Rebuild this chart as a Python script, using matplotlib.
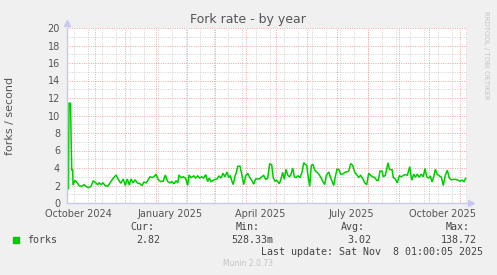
import matplotlib
matplotlib.use('Agg')
from matplotlib import pyplot as plt
from datetime import datetime, timedelta

# %%
start = datetime(2024, 10, 4, 1, 0, 5)
end = datetime(2025, 11, 8, 1, 0, 5)

# days since start, forks / second (daily averages)
day = [0, 1.5, 2, 3.5, 4.7, 5.7, 6, 8, 10.3, 12, 14.7, 17, 19, 21.3, 24, 26.3, 28.7, 30.7,
       32.3, 34, 36, 38, 40.7, 43, 45.7, 49, 51.3, 53.7, 56.3, 58.3, 60.3, 62.3, 64, 66,
       68, 70.3, 73, 75, 77, 79, 81, 83, 85.3, 87.7, 89, 91.3, 93.7, 96.3, 98.3, 100.7,
       103, 104.7, 107, 109, 110.7, 112, 114, 116.3, 118.7, 120.7, 122, 124, 126.7, 128.7,
       130.7, 132.7, 134.7, 136.7, 138.7, 140.7, 142.3, 144, 145.7, 148, 150, 152, 154,
       156, 158, 160, 161.7, 163.3, 164.7, 166.3, 168, 169.3, 170.7, 173, 175, 176.7,
       178.7, 180.7, 182.3, 184.7, 186.7, 188.7, 190.7, 192.7, 194.7, 196.7, 198.7, 200.7,
       202.7, 204.7, 206.3, 208, 209.7, 212.3, 214, 215.7, 217.3, 219, 220.7, 222.3, 223.7,
       225.7, 227.3, 229, 231, 233, 235, 236.7, 238.3, 239.7, 241, 242.7, 244.3, 246, 247.7,
       249.7, 251.7, 253.7, 255.7, 257.7, 259.3, 261.7, 263.3, 265, 266.7, 268.3, 270,
       271.7, 273.7, 275.7, 277.7, 279.7, 281.7, 283.7, 285.7, 287.7, 289.7, 291.7, 293.7,
       295.7, 297.7, 299.7, 301.7, 303.7, 305.7, 307.7, 309.7, 311.3, 313, 315, 316.3,
       318.3, 321, 322.3, 325, 326.3, 328.3, 330.3, 332.3, 334.3, 336.3, 338.3, 340.3,
       342.7, 344.7, 346.7, 348.3, 350.3, 352.3, 354.3, 356.3, 358, 359.7, 361.7, 363.3,
       365, 366.7, 368.3, 370, 371.7, 374.3, 376.3, 378.3, 380.3, 382.3, 384.3, 387, 389,
       391, 393, 395, 397, 398.7]
forks = [1.63, 1.63, 11.4, 11.4, 3.77, 3.77, 2.06, 2.6, 2.3, 2.0, 1.9, 2.1, 1.9, 1.75, 1.9,
         2.55, 2.3, 2.1, 2.3, 2.1, 2.3, 2.0, 1.9, 2.3, 2.75, 3.2, 2.7, 2.25, 2.75, 2.0, 2.75,
         2.05, 2.75, 2.3, 2.65, 2.3, 2.2, 2.0, 2.4, 2.3, 2.6, 3.0, 2.9, 3.1, 3.3, 2.65, 2.45,
         2.5, 3.2, 2.45, 2.3, 2.45, 2.2, 2.55, 2.3, 3.2, 2.9, 3.0, 2.8, 2.0, 3.2, 2.9, 3.1,
         2.85, 3.1, 2.85, 3.0, 2.85, 3.25, 2.45, 2.85, 2.45, 2.55, 2.7, 2.75, 3.1, 2.85, 3.4,
         3.0, 3.55, 2.9, 3.15, 2.55, 2.1, 3.1, 3.45, 4.2, 4.2, 3.15, 2.1, 3.1, 3.4, 3.0, 2.6,
         2.15, 2.75, 2.75, 2.75, 3.0, 3.15, 2.7, 2.85, 4.5, 4.35, 2.85, 2.5, 2.6, 2.2, 2.75,
         3.5, 2.7, 3.85, 3.2, 3.0, 3.15, 4.0, 3.0, 2.9, 3.1, 2.9, 3.5, 4.6, 4.4, 4.3, 3.15,
         1.9, 4.3, 4.4, 3.75, 3.55, 3.3, 2.95, 2.5, 2.1, 3.15, 3.55, 3.0, 2.5, 2.0, 3.0, 3.85,
         3.85, 3.3, 3.3, 3.5, 3.55, 3.65, 4.5, 4.3, 3.5, 3.25, 2.95, 3.15, 2.8, 2.3, 2.1, 3.4,
         3.15, 3.0, 2.9, 2.6, 2.6, 3.65, 3.65, 3.0, 3.15, 4.6, 3.85, 3.8, 2.9, 2.75, 2.3, 3.1,
         3.0, 3.15, 3.25, 3.15, 4.15, 2.6, 3.3, 2.95, 3.3, 2.95, 3.3, 3.0, 3.95, 3.0, 2.85,
         3.1, 2.4, 3.0, 3.85, 3.3, 3.15, 2.95, 2.0, 3.15, 3.75, 2.85, 2.65, 2.7, 2.7, 2.6, 2.5,
         2.6, 2.45, 2.82]

yticks = list(range(0, 21, 2))
xlabel_dates = [datetime(2024, 10, 15), datetime(2025, 1, 15), datetime(2025, 4, 15),
                datetime(2025, 7, 15), datetime(2025, 10, 15)]
xlabel_text = ['October 2024', 'January 2025', 'April 2025', 'July 2025', 'October 2025']

legend_cols = ['Cur:', 'Min:', 'Avg:', 'Max:']
legend_vals = ['2.82', '528.33m', '3.02', '138.72']

# %%
W, H = 497, 275
fig = plt.figure(figsize=(W / 100, H / 100), dpi=100, facecolor='#f0f0f0')
ax = fig.add_axes([67 / W, 72 / H, 400 / W, 175 / H], facecolor='white')

def px(x, y):
    return x / W, 1 - y / H

dates = [start + timedelta(days=d) for d in day]

# grid
major_c = '#eba3a3'
minor_c = '#d0d0d0'
dot = (0, (1, 1.4))
for v in range(0, 21):
    ax.axhline(v, color=major_c if v % 2 == 0 else minor_c, lw=0.7, ls=dot, zorder=1)
m = datetime(2024, 11, 1)
while m < end:
    ax.axvline(m, color=major_c, lw=0.7, ls=dot, zorder=1)
    m = datetime(m.year + (m.month == 12), m.month % 12 + 1, 1)
w = datetime(2024, 10, 11)
while w < end:
    ax.axvline(w, color=minor_c, lw=0.7, ls=dot, zorder=0.9)
    w += timedelta(days=14)

ax.plot(dates, forks, color='#00cc00', lw=1.1, zorder=3, solid_joinstyle='miter')

ax.set_xlim(start, end)
ax.set_ylim(0, 20)
ax.set_yticks(yticks)
ax.set_yticklabels([str(t) for t in yticks])
ax.set_xticks(xlabel_dates)
ax.set_xticklabels(xlabel_text)
ax.tick_params(axis='both', length=0, labelsize=7, colors='#555555')
ax.tick_params(axis='y', pad=5)
ax.tick_params(axis='x', pad=4)
for s in ['top', 'right']:
    ax.spines[s].set_visible(False)
for s in ['left', 'bottom']:
    ax.spines[s].set_color('#c8c8f0')
    ax.spines[s].set_linewidth(1.0)
    ax.spines[s].set_zorder(4)

# axis arrows
ax.plot([0], [1.03], marker='^', ms=5, color='#c8c8f0', transform=ax.transAxes, clip_on=False)
ax.plot([1.01], [0], marker='>', ms=5, color='#c8c8f0', transform=ax.transAxes, clip_on=False)

fig.text(*px(248, 19), 'Fork rate - by year', fontsize=9, color='#555555', ha='center', va='center')
fig.text(*px(10, 116), 'forks / second', fontsize=8, color='#555555', rotation=90,
         ha='center', va='center')
fig.text(*px(486, 55), 'RRDTOOL / TOBI OETIKER', fontsize=5, color='#c4c4c4', rotation=270,
         ha='center', va='center')

# legend block
mono = dict(family='DejaVu Sans Mono', fontsize=7.2, color='#444444', va='center')
fig.patches.append(plt.Rectangle(px(13, 243), 6 / W, 6 / H, transform=fig.transFigure,
                                 color='#00cc00'))
fig.text(*px(27, 240), 'forks', ha='left', **mono)
head_x = [154, 260, 365, 470]
val_x = [160, 273, 371, 477]
for hx, vx, c, v in zip(head_x, val_x, legend_cols, legend_vals):
    fig.text(*px(hx, 227), c, ha='right', **mono)
    fig.text(*px(vx, 240), v, ha='right', **mono)
fig.text(*px(483, 252), 'Last update: Sat Nov  8 01:00:05 2025', ha='right', **mono)
fig.text(*px(248, 264), 'Munin 2.0.73', fontsize=5.5, color='#c4c4c4', ha='center', va='center')

fig.savefig('out.png', dpi=100, facecolor=fig.get_facecolor())
